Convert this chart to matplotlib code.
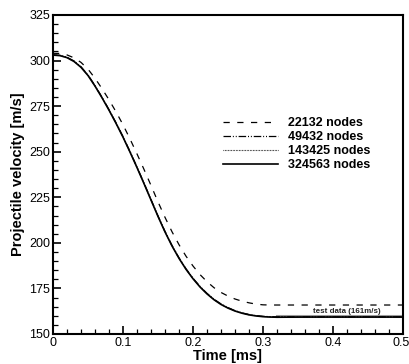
import matplotlib
matplotlib.use("Agg")
import matplotlib.pyplot as plt
from matplotlib.ticker import MultipleLocator
from matplotlib.transforms import ScaledTranslation

plt.rcParams["font.family"] = ["Liberation Sans", "DejaVu Sans"]

# time axis [ms]
time_ms = [0.00, 0.01, 0.02, 0.03, 0.04, 0.05, 0.06, 0.07, 0.08, 0.09, 0.10,
           0.11, 0.12, 0.13, 0.14, 0.15, 0.16, 0.17, 0.18, 0.19, 0.20,
           0.21, 0.22, 0.23, 0.24, 0.25, 0.26, 0.27, 0.28, 0.29, 0.30,
           0.31, 0.32, 0.36, 0.40, 0.45, 0.50]

# projectile velocity [m/s] per mesh
v_22132 = [304.0, 303.9, 303.1, 301.5, 299.0, 295.3, 290.3, 284.6, 278.5, 271.9, 264.8,
           257.0, 248.8, 240.3, 231.5, 222.5, 214.0, 206.1, 199.0, 192.7, 187.3,
           182.6, 178.7, 175.4, 172.8, 170.8, 169.2, 168.0, 167.1, 166.4, 166.0,
           165.9, 165.9, 165.9, 165.9, 165.9, 165.9]
v_49432 = [303.2, 302.9, 301.8, 299.8, 296.6, 292.1, 286.3, 279.9, 273.1, 265.9, 258.3,
           250.1, 241.6, 232.8, 223.8, 214.8, 206.3, 198.6, 191.8, 185.8, 180.6,
           176.1, 172.3, 169.1, 166.5, 164.5, 162.8, 161.6, 160.7, 160.1, 159.7,
           159.5, 159.4, 159.4, 159.4, 159.4, 159.4]
v_143425 = [303.1, 302.8, 301.7, 299.6, 296.4, 291.9, 286.1, 279.7, 272.9, 265.7, 258.1,
            249.9, 241.4, 232.6, 223.6, 214.6, 206.1, 198.4, 191.6, 185.6, 180.4,
            175.9, 172.1, 168.9, 166.3, 164.3, 162.7, 161.5, 160.6, 160.0, 159.6,
            159.4, 159.3, 159.35, 159.35, 159.35, 159.35]
v_324563 = [303.0, 302.7, 301.6, 299.5, 296.3, 291.8, 286.0, 279.6, 272.8, 265.6, 258.0,
            249.8, 241.3, 232.5, 223.5, 214.5, 206.0, 198.3, 191.5, 185.5, 180.3,
            175.8, 172.0, 168.8, 166.2, 164.2, 162.6, 161.4, 160.5, 159.9, 159.5,
            159.3, 159.2, 159.3, 159.3, 159.3, 159.3]

labels = ["22132 nodes", "49432 nodes", "143425 nodes", "324563 nodes"]

test_t = [0.32, 0.50]
test_v = [159.8, 159.8]

fig = plt.figure(figsize=(4.10, 3.64), dpi=100)
ax = fig.add_axes([53 / 410, 30 / 364, 350 / 410, 319 / 364])

ax.plot(test_t, test_v, color="#9a9a9a", linewidth=2.2, zorder=1)
ax.text(0.42, 162.6, "test data (161m/s)", fontsize=5.7, fontweight="bold",
        ha="center", va="center", color="#222222")

ax.plot(time_ms, v_22132, color="black", linewidth=0.9, linestyle=(0, (5, 6)), label=labels[0])
ax.plot(time_ms, v_49432, color="black", linewidth=0.9,
        linestyle=(0, (6, 1.5, 0.8, 1.5, 0.8, 1.5)), label=labels[1])
ax.plot(time_ms, v_143425, color="black", linewidth=0.8, linestyle=(0, (0.6, 0.8)), label=labels[2])
ax.plot(time_ms, v_324563, color="black", linewidth=1.2, label=labels[3])

ax.set_xlim(0, 0.5)
ax.set_ylim(150, 325)
ax.xaxis.set_minor_locator(MultipleLocator(0.02))
ax.yaxis.set_major_locator(MultipleLocator(25))
ax.yaxis.set_minor_locator(MultipleLocator(5))
ax.set_xticks([0, 0.1, 0.2, 0.3, 0.4, 0.5], ["0", "0.1", "0.2", "0.3", "0.4", "0.5"])
ax.tick_params(which="both", direction="in", top=False, right=False, labelsize=9, pad=2)
ax.tick_params(which="major", length=6, width=1.2)
ax.tick_params(which="minor", length=3.5, width=0.9)
for sp in ax.spines.values():
    sp.set_linewidth(1.5)

# last tick label sits right at the figure edge; nudge it in a little
last = ax.get_xticklabels()[-1]
last.set_transform(last.get_transform() + ScaledTranslation(-2 / 100, 0, fig.dpi_scale_trans))

ax.set_xlabel("Time [ms]", fontsize=10.5, fontweight="bold", labelpad=0)
ax.set_ylabel("Projectile velocity [m/s]", fontsize=10.5, fontweight="bold", labelpad=3)

leg = ax.legend(loc="upper left", bbox_to_anchor=(0.486, 0.679), frameon=False,
                prop={"size": 9, "weight": "bold"}, handlelength=4.4, handletextpad=0.8,
                labelspacing=0.15, borderpad=0, borderaxespad=0)

fig.savefig("out.png", dpi=100)
